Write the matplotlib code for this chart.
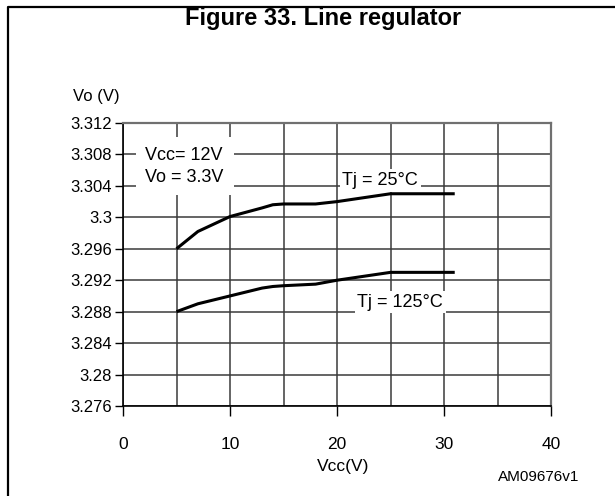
import matplotlib
matplotlib.use("Agg")
import matplotlib.pyplot as plt
from matplotlib.lines import Line2D

# Line regulation, output voltage against supply voltage
vcc = [5, 7, 10, 13, 14, 15, 18, 20, 25, 31]
vo_25c = [3.2960, 3.2982, 3.3001, 3.3012, 3.3016, 3.3017, 3.3017, 3.3020, 3.3030, 3.3030]
vo_125c = [3.2880, 3.2890, 3.2900, 3.2910, 3.2912, 3.2913, 3.2915, 3.2920, 3.2930, 3.2930]

x_ticks = [0, 10, 20, 30, 40]
x_grid = [5, 15, 25, 35]
y_ticks = [3.276, 3.28, 3.284, 3.288, 3.292, 3.296, 3.3, 3.304, 3.308, 3.312]
y_labels = ["3.276", "3.28", "3.284", "3.288", "3.292", "3.296", "3.3", "3.304", "3.308", "3.312"]

plt.rcParams["font.family"] = ["Liberation Sans", "DejaVu Sans"]

fig = plt.figure(figsize=(6.15, 4.96), dpi=100)
ax = fig.add_axes([0.2, 0.1815, 0.696, 0.5705])

ax.plot(vcc, vo_25c, color="black", lw=2.2, solid_capstyle="butt", zorder=3)
ax.plot(vcc, vo_125c, color="black", lw=2.2, solid_capstyle="butt", zorder=3)

ax.set_xlim(0, 40)
ax.set_ylim(3.276, 3.312)
ax.set_xticks(x_ticks)
ax.set_xticks(x_grid, minor=True)
ax.set_yticks(y_ticks)
ax.set_yticklabels(y_labels)
ax.tick_params(axis="x", which="major", length=7, width=1, pad=15, labelsize=12.5)
ax.tick_params(axis="x", which="minor", length=0)
ax.tick_params(axis="y", length=6, width=1, pad=2, labelsize=12)
ax.grid(True, which="both", color="#3a3a3a", lw=1.1)
ax.set_axisbelow(True)
for side in ["left", "bottom"]:
    ax.spines[side].set_color("black")
    ax.spines[side].set_linewidth(1.2)
for side in ["top", "right"]:
    ax.spines[side].set_color("#707070")
    ax.spines[side].set_linewidth(1.6)

box = dict(facecolor="white", edgecolor="none", pad=2)
ax.text(2.1, 3.3065, "Vcc= 12V\nVo = 3.3V", fontsize=13, va="center", ha="left",
        linespacing=1.35, bbox=dict(facecolor="white", edgecolor="none", pad=7), zorder=4)
ax.text(20.5, 3.3047, "Tj = 25°C", fontsize=13, va="center", ha="left", bbox=box, zorder=4)
ax.text(21.9, 3.2892, "Tj = 125°C", fontsize=13, va="center", ha="left", bbox=box, zorder=4)

fig.text(73 / 615, 1 - 96 / 496, "Vo (V)", fontsize=12, va="center", ha="left")
fig.text(343 / 615, 1 - 466 / 496, "Vcc(V)", fontsize=12.5, va="center", ha="center")
fig.text(539 / 615, 1 - 477 / 496, "AM09676v1", fontsize=11, va="center", ha="center")
fig.text(0.525, 1 - 19 / 496, "Figure 33. Line regulator", fontsize=17, fontweight="bold",
         va="center", ha="center")

# outer frame, left and top edges
fig.add_artist(Line2D([7.5 / 615, 7.5 / 615, 1], [0, 1 - 6.5 / 496, 1 - 6.5 / 496],
                      color="black", lw=1.6, transform=fig.transFigure))

fig.savefig("out.png", dpi=100)
